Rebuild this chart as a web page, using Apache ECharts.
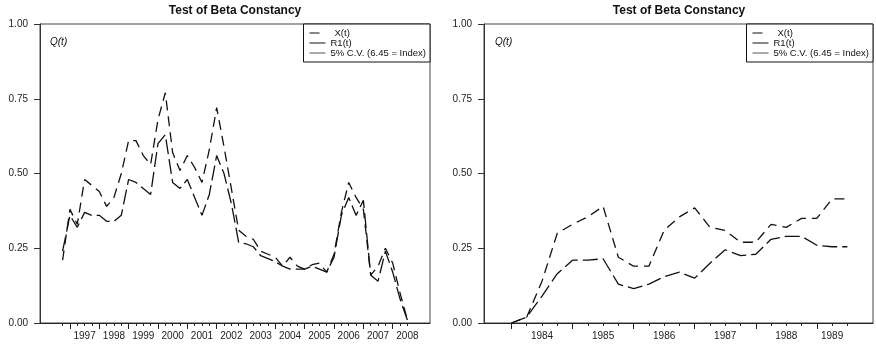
<!DOCTYPE html>
<html lang="en">
<head>
  <meta charset="UTF-8">
  <title>Test of Beta Constancy</title>
  <script src="https://cdn.jsdelivr.net/npm/echarts@6/dist/echarts.min.js"></script>
  <style>
    html, body { margin: 0; padding: 0; background: #fff; }
  </style>
</head>
<body>
  <div id="chart" style="width: 876px; height: 347px;"></div>
  <script>
    // quarterly data, left panel 1996:4 - 2008:3, right panel 1984:1 - 1989:3
    var leftStart = [1996, 4];
    var leftX = [0.21, 0.38, 0.33, 0.48, 0.46, 0.44, 0.39, 0.42, 0.50, 0.61, 0.61, 0.56,
                 0.53, 0.68, 0.77, 0.57, 0.51, 0.56, 0.52, 0.47, 0.58, 0.72, 0.59, 0.45,
                 0.31, 0.29, 0.28, 0.24, 0.23, 0.22, 0.19, 0.22, 0.19, 0.18, 0.195, 0.20,
                 0.17, 0.23, 0.37, 0.47, 0.42, 0.38, 0.16, 0.19, 0.25, 0.20, 0.10, 0.01];
    var leftR1 = [0.24, 0.36, 0.32, 0.37, 0.36, 0.36, 0.34, 0.34, 0.36, 0.48, 0.47, 0.45,
                  0.43, 0.60, 0.63, 0.47, 0.45, 0.48, 0.42, 0.36, 0.43, 0.56, 0.50, 0.40,
                  0.27, 0.265, 0.255, 0.225, 0.215, 0.205, 0.19, 0.18, 0.18, 0.18, 0.19, 0.18,
                  0.17, 0.22, 0.36, 0.42, 0.36, 0.41, 0.16, 0.14, 0.24, 0.17, 0.08, 0.01];

    var rightStart = [1984, 1];
    var rightX = [0.00, 0.02, 0.14, 0.30, 0.33, 0.355, 0.39, 0.22, 0.19, 0.19, 0.31, 0.355,
                  0.385, 0.32, 0.31, 0.27, 0.27, 0.33, 0.32, 0.35, 0.35, 0.415, 0.415];
    var rightR1 = [0.00, 0.02, 0.09, 0.165, 0.21, 0.21, 0.215, 0.13, 0.115, 0.13, 0.155, 0.17,
                   0.15, 0.20, 0.245, 0.225, 0.23, 0.28, 0.29, 0.29, 0.26, 0.255, 0.255];

    // year tick labels and where they sit
    var leftYears = [1997, 1998, 1999, 2000, 2001, 2002, 2003, 2004, 2005, 2006, 2007, 2008];
    var leftLabelPos = [1997.5, 1998.5, 1999.5, 2000.5, 2001.5, 2002.5, 2003.5, 2004.5, 2005.5, 2006.5, 2007.5, 2008.5];
    var rightYears = [1984, 1985, 1986, 1987, 1988, 1989];
    var rightLabelPos = [1984.5, 1985.5, 1986.5, 1987.5, 1988.5, 1989.25];

    var FONT = 'Liberation Sans, Arial, Helvetica, sans-serif';
    var TXT = '#222';
    var CV_NAME = '5% C.V. (6.45 = Index)';

    function periods(start, n) { // time value of each quarter
      var out = [];
      for (var i = 0; i < n; i++) out.push(start[0] + (start[1] - 1 + i) / 4);
      return out;
    }
    function pairs(t, v) {
      return v.map(function (y, i) { return [t[i], y]; });
    }

    var leftT = periods(leftStart, leftX.length);
    var rightT = periods(rightStart, rightX.length);

    function xAxes(gridIndex, min, max, obs, years, labelPos) {
      return [{
        type: 'value', gridIndex: gridIndex, position: 'bottom', min: min, max: max,
        splitLine: { show: false },
        axisLine: { lineStyle: { color: '#222', width: 1 } },
        axisTick: { customValues: obs, length: 3, lineStyle: { color: '#222' } },
        axisLabel: {
          customValues: labelPos, margin: 8, fontSize: 10, color: TXT, fontFamily: FONT,
          formatter: function (v) { return String(Math.floor(v)); }
        }
      }, {
        type: 'value', gridIndex: gridIndex, position: 'bottom', offset: 0, min: min, max: max,
        splitLine: { show: false },
        axisLine: { show: false },
        axisTick: { customValues: years, length: 6, lineStyle: { color: '#222' } },
        axisLabel: { show: false }
      }];
    }

    function yAxis(gridIndex) {
      return {
        type: 'value', gridIndex: gridIndex, min: 0, max: 1, interval: 0.25,
        splitLine: { show: false },
        axisLine: { show: true, lineStyle: { color: '#333', width: 1 } },
        axisTick: { show: true, length: 6, lineStyle: { color: '#333' } },
        axisLabel: {
          margin: 12, fontSize: 10, color: TXT, fontFamily: FONT,
          formatter: function (v) { return v.toFixed(2); }
        }
      };
    }

    function lineSeries(name, xIdx, yIdx, data, dash) {
      return {
        name: name, type: 'line', xAxisIndex: xIdx, yAxisIndex: yIdx,
        data: data, symbol: 'none', animation: false,
        itemStyle: { color: '#111' },
        lineStyle: { color: '#111', width: 1.3, type: dash }
      };
    }
    function cvSeries(xIdx, yIdx) {
      return {
        name: CV_NAME, type: 'line', xAxisIndex: xIdx, yAxisIndex: yIdx,
        data: [], symbol: 'none', animation: false,
        itemStyle: { color: '#555' },
        lineStyle: { color: '#555', width: 1.3 }
      };
    }

    // legend swatches: a short dash (box kept 16 wide by an empty sub-path), and full lines
    var dashIcon = 'path://M0,0 H10 V1 H0 Z M16,0.5 H16 Z';
    var lineIcon = 'path://M0,0 H16 V1 H0 Z';

    function legend(right) {
      return {
        orient: 'vertical', right: right, top: 24,
        backgroundColor: '#fff', borderColor: '#111', borderWidth: 1,
        padding: [4, 4, 4, 6], itemGap: 0, itemWidth: 16, itemHeight: 1.6,
        textStyle: { fontSize: 9.5, color: '#111', fontFamily: FONT, lineHeight: 9.5 },
        selectedMode: false,
        data: [
          { name: 'X(t)', icon: dashIcon,
            itemStyle: { color: '#111', borderWidth: 0 },
            lineStyle: { width: 0 },
            textStyle: { padding: [0, 0, 0, 4] } },
          { name: 'R1(t)', icon: lineIcon,
            itemStyle: { color: '#111', borderWidth: 0 }, lineStyle: { width: 0 } },
          { name: CV_NAME, icon: lineIcon,
            itemStyle: { color: '#555', borderWidth: 0 }, lineStyle: { width: 0 } }
        ]
      };
    }

    var chart = echarts.init(document.getElementById('chart'), null, { renderer: 'canvas' });

    var option = {
      backgroundColor: '#fff',
      animation: false,
      title: [
        { text: 'Test of Beta Constancy', left: 235, textAlign: 'center', top: 5, padding: 0,
          textStyle: { fontSize: 12, fontWeight: 'bold', color: '#111', fontFamily: FONT } },
        { text: 'Test of Beta Constancy', left: 679, textAlign: 'center', top: 5, padding: 0,
          textStyle: { fontSize: 12, fontWeight: 'bold', color: '#111', fontFamily: FONT } }
      ],
      legend: [legend(446), legend(3)],
      grid: [
        { left: 40, right: 446, top: 24, bottom: 24, show: true, borderColor: '#444', borderWidth: 1 },
        { left: 484, right: 3, top: 24, bottom: 24, show: true, borderColor: '#444', borderWidth: 1 }
      ],
      xAxis: xAxes(0, 1995.98, 2009.27, leftT, leftYears, leftLabelPos)
        .concat(xAxes(1, 1983.55, 1989.92, rightT, rightYears, rightLabelPos)),
      yAxis: [yAxis(0), yAxis(1)],
      graphic: [
        { type: 'text', left: 50, top: 37,
          style: { text: 'Q(t)', font: 'italic 10px ' + FONT, fill: '#111' } },
        { type: 'text', left: 495, top: 37,
          style: { text: 'Q(t)', font: 'italic 10px ' + FONT, fill: '#111' } }
      ],
      series: [
        lineSeries('X(t)', 0, 0, pairs(leftT, leftX), [10, 6]),
        lineSeries('R1(t)', 0, 0, pairs(leftT, leftR1), [15, 5]),
        cvSeries(0, 0),
        lineSeries('X(t)', 2, 1, pairs(rightT, rightX), [10, 6]),
        lineSeries('R1(t)', 2, 1, pairs(rightT, rightR1), [15, 5]),
        cvSeries(2, 1)
      ]
    };

    chart.setOption(option);
  </script>
</body>
</html>
